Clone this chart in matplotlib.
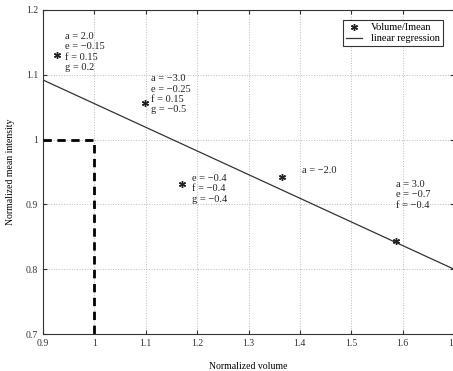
import matplotlib
matplotlib.use("Agg")
import matplotlib.pyplot as plt
import numpy as np

plt.rcParams['font.family'] = ['Liberation Serif', 'DejaVu Serif']
plt.rcParams['axes.unicode_minus'] = True

# measured points (normalized volume vs normalized mean intensity)
norm_volume = [0.928, 1.098, 1.170, 1.365, 1.587]
norm_intensity = [1.131, 1.056, 0.932, 0.942, 0.843]

# parameter labels next to each point
point_labels = [
    "a = 2.0\ne = \u22120.15\nf = 0.15\ng = 0.2",
    "a = \u22123.0\ne = \u22120.25\nf = 0.15\ng = \u22120.5",
    "e = \u22120.4\nf = \u22120.4\ng = \u22120.4",
    "a = \u22122.0",
    "a = 3.0\ne = \u22120.7\nf = \u22120.4",
]
label_x = [0.943, 1.110, 1.190, 1.404, 1.587]
label_y = [1.166, 1.101, 0.947, 0.959, 0.938]

# regression line end points
reg_x = [0.9, 1.7]
reg_y = [1.092, 0.800]

# reference (1, 1) guide
ref_x = [0.9, 1.0, 1.0]
ref_y = [1.0, 1.0, 0.7]

xticks = [0.9, 1.0, 1.1, 1.2, 1.3, 1.4, 1.5, 1.6, 1.7]
xtick_labels = ["0.9", "1", "1.1", "1.2", "1.3", "1.4", "1.5", "1.6", "1.7"]
yticks = [0.7, 0.8, 0.9, 1.0, 1.1, 1.2]
ytick_labels = ["0.7", "0.8", "0.9", "1", "1.1", "1.2"]

fig = plt.figure(figsize=(4.53, 3.71), dpi=100)
ax = fig.add_axes([43 / 453, 1 - 334 / 371, 411 / 453, 324 / 371])

ax.plot(norm_volume, norm_intensity, linestyle='none', marker=(6, 2, 0), color='#222222',
        markersize=5, markeredgewidth=1.0, label='Volume/Imean', zorder=4)
ax.plot(reg_x, reg_y, color='#333333', linewidth=0.9, label='linear regression', zorder=3)
ax.plot(ref_x, ref_y, color='black', linewidth=2.0, linestyle=(0, (3, 2)), zorder=3)

for tx, ty, s in zip(label_x, label_y, point_labels):
    ax.text(tx, ty, s, fontsize=7.5, va='top', ha='left', linespacing=1.2, color='#222222')

ax.set_xlim(0.9, 1.7)
ax.set_ylim(0.7, 1.2)
ax.set_xticks(xticks)
ax.set_xticklabels(xtick_labels)
ax.set_yticks(yticks)
ax.set_yticklabels(ytick_labels)
ax.tick_params(direction='in', length=3, labelsize=7, top=True, right=True, colors='#333333')
ax.grid(True, linestyle=':', color='#bbbbbb', linewidth=0.7)

for sp in ax.spines.values():
    sp.set_color('#333333')
    sp.set_linewidth(0.8)

ax.set_xlabel('Normalized volume', fontsize=7, labelpad=10)
ax.set_ylabel('Normalized mean intensity', fontsize=7, labelpad=8)

leg = ax.legend(loc='upper right', fontsize=7.5, frameon=True, fancybox=False,
                borderpad=0.3, handlelength=1.6, labelspacing=0.15,
                bbox_to_anchor=(0.985, 0.985), framealpha=1)
leg.get_frame().set_edgecolor('#333333')
leg.get_frame().set_linewidth(0.8)

fig.savefig('out.png', dpi=100)
